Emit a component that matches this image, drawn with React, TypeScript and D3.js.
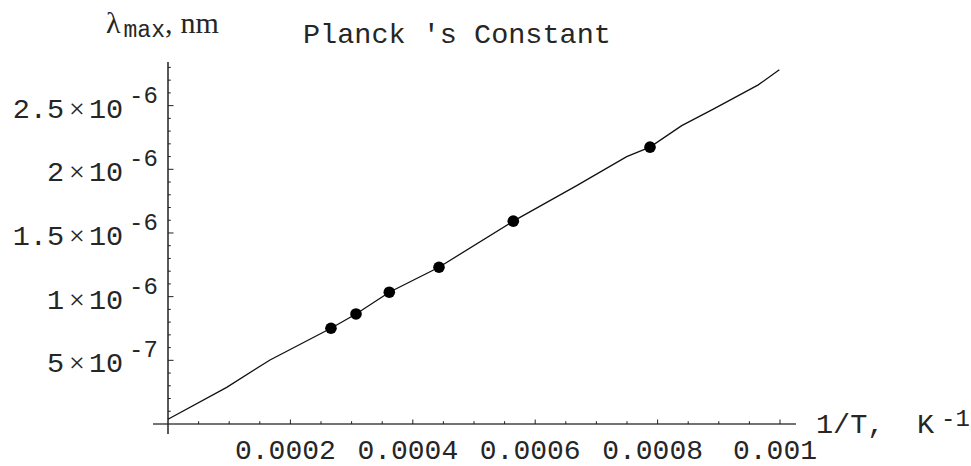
import React from "react";
import * as d3 from "d3";

// Measured peak wavelengths against reciprocal temperature
const invT = [0.0002663, 0.0003072, 0.0003616, 0.0004428, 0.0005642, 0.0007876];
const lambdaMax = [0.752e-6, 0.864e-6, 1.035e-6, 1.231e-6, 1.593e-6, 2.174e-6];

// Computed curve through the data
const curveInvT = [0, 0.0000959, 0.0001667, 0.0002663, 0.0003072, 0.0003616, 0.0004428, 0.0005642,
  0.0006678, 0.0007495, 0.0007876, 0.0008394, 0.000891, 0.0009645, 0.0009989];
const curveLambda = [0.037e-6, 0.288e-6, 0.503e-6, 0.752e-6, 0.864e-6, 1.035e-6, 1.231e-6, 1.593e-6,
  1.872e-6, 2.1e-6, 2.174e-6, 2.343e-6, 2.472e-6, 2.663e-6, 2.781e-6];

// Axis ticks
const xTickValues = [0.0002, 0.0004, 0.0006, 0.0008, 0.001];
const xTickLabels = ["0.0002", "0.0004", "0.0006", "0.0008", "0.001"];
const yTickValues = [5e-7, 1e-6, 1.5e-6, 2e-6, 2.5e-6];
const yTickMantissa = ["5", "1", "1.5", "2", "2.5"];
const yTickExponent = ["-7", "-6", "-6", "-6", "-6"];

const W = 971;
const H = 466;
const MONO = "'Liberation Mono', 'Courier New', monospace";
const SERIF = "'Liberation Serif', 'Times New Roman', serif";
const INK = "#262626";

export default function App() {
  const x = d3.scaleLinear().domain([0, 0.001]).range([168, 780]);
  const y = d3.scaleLinear().domain([0, 2e-6]).range([424, 169.3]);

  const xMin = x.invert(153);
  const xMax = x.invert(796);
  const yMin = y.invert(434);
  const yMax = y.invert(62);

  const xMinor = d3.range(0.00005, xMax, 0.00005).filter((v) => Math.abs(v / 0.0002 - Math.round(v / 0.0002)) > 1e-6);
  const yMinor = d3.range(1e-7, yMax, 1e-7).filter((v) => Math.abs(v / 5e-7 - Math.round(v / 5e-7)) > 1e-6);

  const pts = curveInvT.map((v, i) => [v, curveLambda[i]] as [number, number]);
  const line = d3.line<[number, number]>().x((d) => x(d[0])).y((d) => y(d[1]));

  return (
    <svg width={W} height={H} style={{ position: "absolute", left: 0, top: 0, background: "#fff" }}>
      {/* axes */}
      <line x1={x(xMin)} x2={x(xMax)} y1={y(0)} y2={y(0)} stroke="#444" strokeWidth={1.5} />
      <line x1={x(0)} x2={x(0)} y1={y(yMin)} y2={y(yMax)} stroke="#222" strokeWidth={1.5} />

      {/* x ticks */}
      {xTickValues.map((v) => (
        <line key={"xM" + v} x1={x(v)} x2={x(v)} y1={y(0)} y2={y(0) - 4.5} stroke="#222" strokeWidth={1} />
      ))}
      {xMinor.map((v) => (
        <line key={"xm" + v} x1={x(v)} x2={x(v)} y1={y(0)} y2={y(0) - 2.8} stroke="#222" strokeWidth={1} />
      ))}
      {/* y ticks */}
      {yTickValues.map((v) => (
        <line key={"yM" + v} x1={x(0)} x2={x(0) + 5.5} y1={y(v)} y2={y(v)} stroke="#222" strokeWidth={1} />
      ))}
      {yMinor.map((v) => (
        <line key={"ym" + v} x1={x(0)} x2={x(0) + 2.8} y1={y(v)} y2={y(v)} stroke="#222" strokeWidth={1} />
      ))}

      {/* x tick labels */}
      {xTickValues.map((v, i) => (
        <text key={"xl" + v} x={x(v) - 5} y={459} textAnchor="middle" fontFamily={MONO} fontSize={28} fill={INK}>
          {xTickLabels[i]}
        </text>
      ))}

      {/* y tick labels */}
      {yTickValues.map((v, i) => (
        <g key={"yl" + v} fill={INK}>
          <text x={64} y={y(v) + 12} textAnchor="end" fontFamily={MONO} fontSize={28.5}>{yTickMantissa[i]}</text>
          <text x={77} y={y(v) + 12} textAnchor="middle" fontFamily={SERIF} fontSize={28}>×</text>
          <text x={89} y={y(v) + 12} textAnchor="start" fontFamily={MONO} fontSize={28.5}>10</text>
          <text x={129} y={y(v) - 3} textAnchor="start" fontFamily={MONO} fontSize={24}>{yTickExponent[i]}</text>
        </g>
      ))}

      {/* curve and data points */}
      <path d={line(pts) ?? ""} fill="none" stroke="#111" strokeWidth={1.3} />
      {invT.map((v, i) => (
        <circle key={"p" + i} cx={x(v)} cy={y(lambdaMax[i])} r={5.8} fill="#000" />
      ))}

      {/* axis labels and title */}
      <text x={106} y={33} fill={INK}>
        <tspan fontFamily={SERIF} fontSize={30}>λ</tspan>
        <tspan fontFamily={MONO} fontSize={23} dy={4} dx={3}>max</tspan>
        <tspan fontFamily={SERIF} fontSize={30} dy={-4}>,</tspan>
        <tspan fontFamily={SERIF} fontSize={30} dx={8}>nm</tspan>
      </text>
      <text x={303} y={43} fontFamily={MONO} fontSize={28.5} fill={INK}>Planck 's Constant</text>
      <text x={816} y={433} fontFamily={MONO} fontSize={28.5} fill={INK}>1/T,</text>
      <text x={917} y={433} fontFamily={MONO} fontSize={28.5} fill={INK}>K</text>
      <text x={941} y={426} fontFamily={MONO} fontSize={24} fill={INK}>-1</text>
    </svg>
  );
}
